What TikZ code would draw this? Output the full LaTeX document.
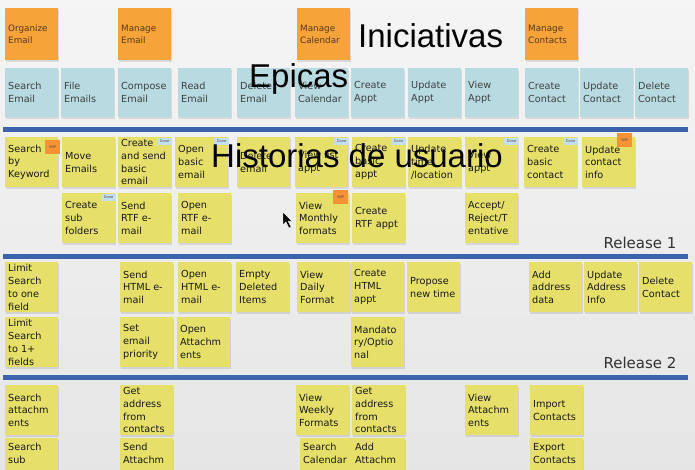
\documentclass[tikz,border=0pt]{standalone}
\usepackage{fontspec}
\setmainfont{DejaVu Sans}
\newfontfamily\rotulofont{Liberation Sans}
\usetikzlibrary{shadows}

\definecolor{naranja}{RGB}{246,163,58}
\definecolor{celeste}{RGB}{184,219,225}
\definecolor{amarillo}{RGB}{230,224,106}
\definecolor{azulraya}{RGB}{60,100,172}
\definecolor{etiqueta}{RGB}{196,222,236}

\newcommand\alineanota{c}

\tikzset{
  nota/.style={anchor=north west, inner xsep=3pt, inner ysep=5pt,
    font=\fontsize{9.7}{12.8}\selectfont,
    drop shadow={opacity=0.22, shadow xshift=0.6pt, shadow yshift=-1.8pt},
    execute at begin node={\begin{minipage}[c][40pt][\alineanota]{47pt}\raggedright},
    execute at end node={\end{minipage}}},
  iniciativa/.style={nota, fill=naranja, text=brown!45!black, inner ysep=6pt,
    font=\fontsize{8.8}{12}\selectfont},
  epica/.style={nota, fill=celeste, text=black!75, inner ysep=4.5pt},
  historia/.style={nota, fill=amarillo, text=black!90},
  corte/.style={/utils/exec={\def\alineanota{t}}},
  done/.style={anchor=north east, fill=etiqueta, minimum width=15pt, minimum height=7pt,
    inner sep=0pt, text=black!70, font=\fontsize{3.6}{4}\selectfont},
  wip/.style={anchor=north east, fill=naranja!90!red, minimum width=15pt, minimum height=14pt,
    inner sep=0pt, text=black!70, font=\fontsize{3.6}{4}\selectfont},
  raya/.style={azulraya, line width=5pt},
  release/.style={anchor=base east, text=black!80, font=\fontsize{15}{15}\selectfont},
  rotulo/.style={anchor=base west, inner sep=0pt, text=black, font=\rotulofont\fontsize{33}{33}\selectfont}
}

\begin{document}
\begin{tikzpicture}[x=1pt, y=-1pt]
    % 1. FONDO
    \useasboundingbox (0,0) rectangle (695,469);
    \clip (0,0) rectangle (695,469);
    \shade[top color=black!4, bottom color=black!10] (0,0) rectangle (695,469);

    % 2. INICIATIVAS (naranja)
    \foreach \n/\x/\txt in {
        i1/5/{Organize\\Email}, i2/118/{Manage\\Email}, i3/297/{Manage\\Calendar}, i4/525/{Manage\\Contacts}
    } {
        \node[iniciativa] (\n) at (\x,8) {\txt};
    }

    % 3. EPICAS (celeste)
    \foreach \n/\x/\txt in {
        e1/5/{Search\\Email}, e2/61/{File\\Emails}, e3/118/{Compose\\Email}, e4/178/{Read\\Email},
        e5/237/{Delete\\Email}, e6/295/{View\\Calendar}, e7/351/{Create\\Appt}, e8/408/{Update\\Appt},
        e9/465/{View\\Appt}, e10/525/{Create\\Contact}, e11/580/{Update\\Contact}, e12/635/{Delete\\Contact}
    } {
        \node[epica] (\n) at (\x,68) {\txt};
    }

    % 4. RAYAS DE RELEASE
    \foreach \y in {129, 256, 377} {
        \draw[raya] (3,\y) -- (688,\y);
    }

    % 5. HISTORIAS - RELEASE 1
    \foreach \n/\x/\txt in {
        h1/5/{Search\\by\\Keyword}, h2/62/{Move\\Emails}, h3/118/{Create\\and send\\basic\\email},
        h4/175/{Open\\basic\\email}, h5/237/{Delete\\email}, h6/295/{View list\\appt},
        h7/352/{Create\\basic\\appt}, h8/408/{Update\\time\\{/location}}, h9/465/{View\\appt},
        h10/524/{Create\\basic\\contact}, h11/582/{Update\\contact\\info}
    } {
        \node[historia] (\n) at (\x,137) {\txt};
    }
    \foreach \n/\x/\txt in {
        h12/62/{Create\\sub\\folders}, h13/118/{Send\\RTF e-\\mail}, h14/178/{Open\\RTF e-\\mail},
        h15/296/{View\\Monthly\\formats}, h16/352/{Create\\RTF appt}, h17/465/{{Accept/}\\{Reject/T}\\entative}
    } {
        \node[historia] (\n) at (\x,193) {\txt};
    }
    \node[release] (rel1) at (680,248) {Release 1};

    % 6. HISTORIAS - RELEASE 2
    \foreach \n/\x/\txt in {
        r1/5/{Limit\\Search\\to one\\field}, r2/120/{Send\\HTML e-\\mail}, r3/178/{Open\\HTML e-\\mail},
        r4/236/{Empty\\Deleted\\Items}, r5/297/{View\\Daily\\Format}, r6/351/{Create\\HTML\\appt},
        r7/407/{Propose\\new time}, r8/529/{Add\\address\\data}, r9/584/{Update\\Address\\Info},
        r10/639/{Delete\\Contact}
    } {
        \node[historia] (\n) at (\x,262) {\txt};
    }
    \foreach \n/\x/\txt in {
        r11/5/{Limit\\Search\\to 1+\\fields}, r12/120/{Set\\email\\priority},
        r13/177/{Open\\Attachm\\ents}, r14/351/{Mandato\\{ry/Optio}\\nal}
    } {
        \node[historia] (\n) at (\x,317) {\txt};
    }
    \node[release] (rel2) at (680,368) {Release 2};

    % 7. HISTORIAS - RELEASE 3 (cortadas abajo)
    \foreach \n/\x/\txt in {
        t1/5/{Search\\attachm\\ents}, t2/120/{Get\\address\\from\\contacts}, t3/296/{View\\Weekly\\Formats},
        t4/352/{Get\\address\\from\\contacts}, t5/465/{View\\Attachm\\ents}, t6/530/{Import\\Contacts}
    } {
        \node[historia] (\n) at (\x,385) {\txt};
    }
    \foreach \n/\x/\txt in {
        t7/5/{Search\\sub}, t8/120/{Send\\Attachm}, t9/300/{Search\\Calendar},
        t10/352/{Add\\Attachm}, t11/530/{Export\\Contacts}
    } {
        \node[historia, corte] (\n) at (\x,438) {\txt};
    }

    % 8. ETIQUETAS DONE / WIP
    \foreach \n in {h3, h4, h6, h7, h9, h10, h12} {
        \node[done] (\n-tag) at ([xshift=1pt, yshift=-1pt]\n.north east) {Done};
    }
    \foreach \n/\dx/\dy in {h1/2/-3, h15/-1/3, h11/-3/4} {
        \node[wip] (\n-tag) at ([xshift=\dx pt, yshift=\dy pt]\n.north east) {WIP};
    }

    % 9. PUNTERO
    \filldraw[black, draw=white, line width=0.4pt]
        (283,212) -- (283,225) -- (286,222) -- (289,228) -- (291,227) -- (288,221) -- (292,221) -- cycle;

    % 10. ROTULOS SUPERPUESTOS
    \node[rotulo] (tIni) at (358,47) {Iniciativas};
    \node[rotulo] (tEpi) at (249,87) {Epicas};
    \node[rotulo] (tHis) at (211,167) {Historias de usuario};

\end{tikzpicture}
\end{document}
